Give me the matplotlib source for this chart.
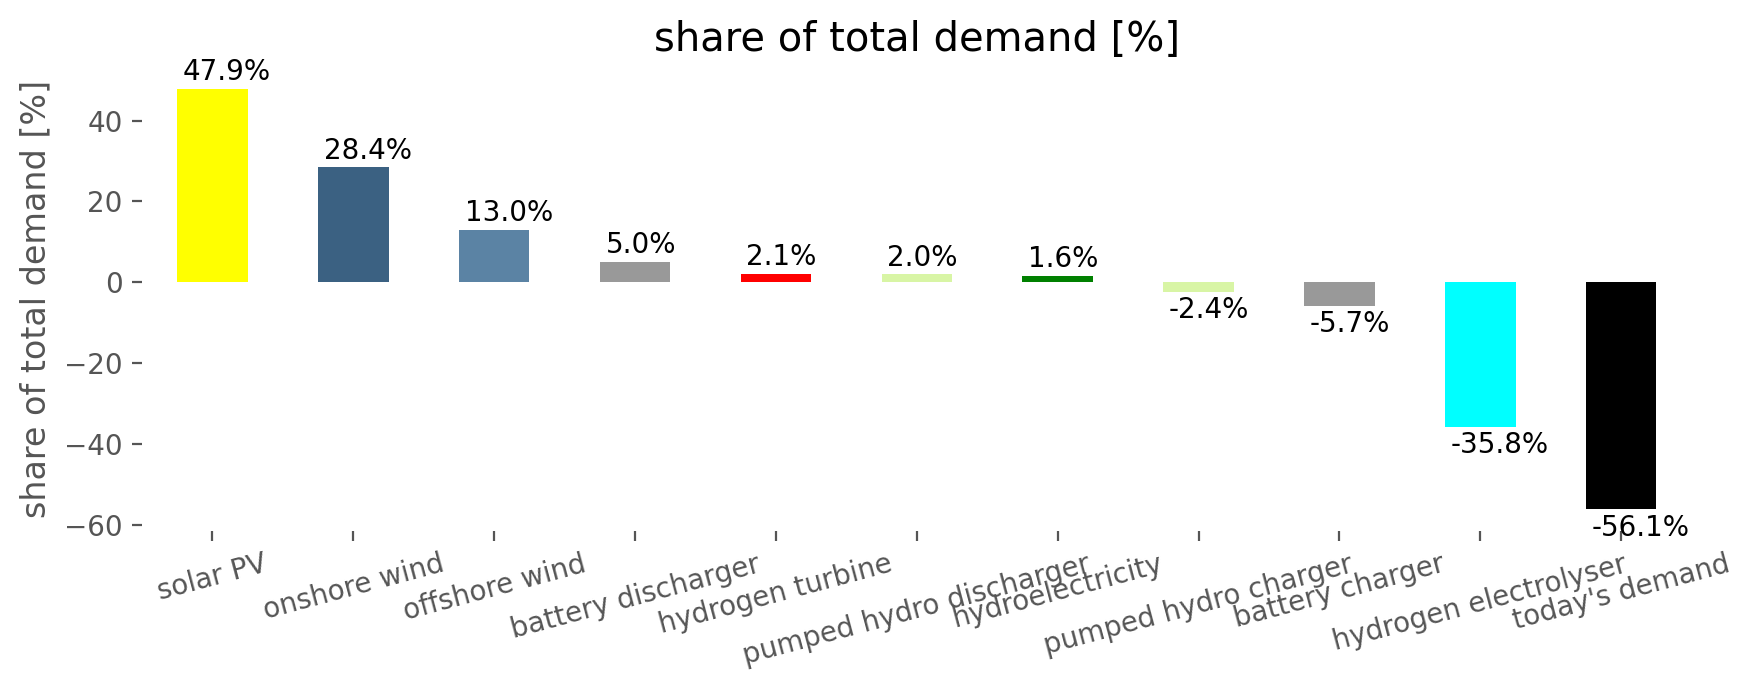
import numpy as np
import matplotlib
matplotlib.use("Agg")
import matplotlib.pyplot as plt

# technologies and their share of total demand [%]
techs = ["solar PV", "onshore wind", "offshore wind", "battery discharger",
         "hydrogen turbine", "pumped hydro discharger", "hydroelectricity",
         "pumped hydro charger", "battery charger", "hydrogen electrolyser",
         "today's demand"]
shares = [47.9, 28.4, 13.0, 5.0, 2.1, 2.0, 1.6, -2.4, -5.7, -35.8, -56.1]
colors = ["#ffff00", "#3b6182", "#5b83a4", "#999999", "#ff0000", "#d8f5a5",
          "#008000", "#d8f5a5", "#999999", "#00ffff", "#000000"]

fig, ax = plt.subplots(figsize=(8.765, 3.445), dpi=200)
fig.subplots_adjust(left=0.081, right=0.965, top=0.902, bottom=0.230)

x = np.arange(len(techs))
bars = ax.bar(x, shares, width=0.5, color=colors)

#value labels: above positive bars, below negative ones
for b, v in zip(bars, shares):
    if v >= 0:
        ax.annotate(f"{v:.1f}%", (b.get_x(), v), xytext=(2, 1),
                    textcoords="offset points", va="bottom", ha="left",
                    fontsize=10)
    else:
        ax.annotate(f"{v:.1f}%", (b.get_x(), v), xytext=(2, -1.5),
                    textcoords="offset points", va="top", ha="left",
                    fontsize=10)

ax.set_xlim(-0.5, len(techs) - 0.5)
ax.margins(y=0.05)
ax.set_xticks(x)
ax.set_xticklabels(techs, rotation=15, ha="center")
ax.tick_params(colors="#555555", labelsize=10, length=3.5)
ax.set_ylabel("share of total demand [%]", color="#555555", fontsize=12)
ax.set_title("share of total demand [%]", fontsize=14.4)
for s in ax.spines.values():
    s.set_visible(False)

fig.savefig("out.png", dpi=200)
